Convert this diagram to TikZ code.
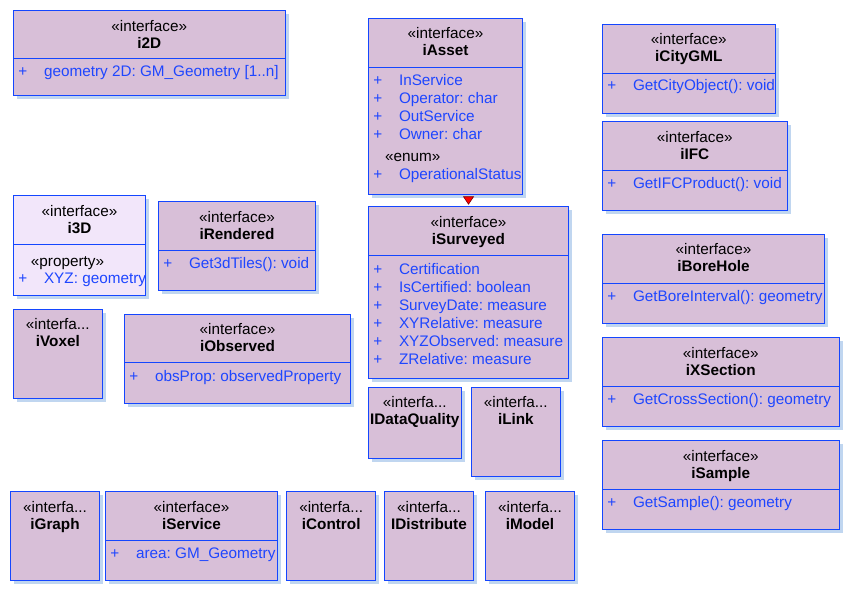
\documentclass[tikz,border=0pt]{standalone}
\usepackage{fontspec}
\setmainfont{Liberation Sans}
\usetikzlibrary{shadows,calc}
\frenchspacing
\definecolor{boxfill}{RGB}{216,191,216}
\definecolor{boxfillL}{RGB}{242,230,250}
\definecolor{boxline}{RGB}{20,70,255}
\definecolor{attrblue}{RGB}{30,70,255}
\definecolor{shadowblue}{RGB}{192,214,240}
\definecolor{darkred}{RGB}{120,0,0}
\tikzset{
  umlbox/.style={draw=boxline, line width=1pt, fill=boxfill, anchor=north west,
    inner sep=0pt, outer sep=0pt,
    drop shadow={shadow xshift=3.5pt, shadow yshift=-3.5pt, fill=shadowblue, opacity=1}},
  stereo/.style={anchor=base, inner sep=0pt, text=black, font=\fontsize{15.3}{18}\selectfont},
  title/.style={anchor=base, inner sep=0pt, text=black, font=\fontsize{15.3}{18}\selectfont\bfseries},
  attr/.style={anchor=base west, inner sep=0pt, text=attrblue, font=\fontsize{15.3}{18}\selectfont},
  plus/.style={anchor=base, inner sep=0pt, text=attrblue, font=\fontsize{15.3}{18}\selectfont},
  subst/.style={anchor=base west, inner sep=0pt, text=black, font=\fontsize{15.3}{18}\selectfont},
  divider/.style={draw=boxline, line width=1pt},
  tri/.style={fill=red, draw=darkred, line width=0.6pt, line join=miter}
}
% name, x, y, w, h
\newcommand\UBox[5]{\node[umlbox, minimum width=#4pt, minimum height=#5pt] (#1) at (#2,#3) {};}
% name, stereotype, title
\newcommand\UHead[3]{%
  \node[stereo] (#1-s) at ($(#1.north)+(0,20.5)$) {#2};
  \node[title] (#1-t) at ($(#1.north)+(0,37.5)$) {#3};}
% name, offset
\newcommand\UDiv[2]{\draw[divider] ($(#1.north west)+(0,#2)$) -- ($(#1.north east)+(0,#2)$);}
% box, name, offset, text
\newcommand\UAttr[4]{%
  \node[plus] (#2-p) at ($(#1.north west)+(9.5,#3)$) {+};
  \node[attr] (#2) at ($(#1.north west)+(30.5,#3)$) {#4};}
\begin{document}
\begin{tikzpicture}[x=1pt,y=-1pt]
\path[use as bounding box, fill=white] (0,0) rectangle (850,591);

% i2D
\UBox{i2D}{13.3}{10.7}{272}{85.3}
\UHead{i2D}{«interface»}{i2D}
\UDiv{i2D}{48.3}
\UAttr{i2D}{i2Da}{66}{geometry 2D: GM\_Geometry [1..n]}

% iAsset
\UBox{iAsset}{368.3}{18.3}{154.4}{176}
\UHead{iAsset}{«interface»}{iAsset}
\UDiv{iAsset}{49}
\UAttr{iAsset}{iAsseta}{67.4}{InService}
\UAttr{iAsset}{iAssetb}{85.4}{Operator: char}
\UAttr{iAsset}{iAssetc}{103.4}{OutService}
\UAttr{iAsset}{iAssetd}{121}{Owner: char}
\node[subst] (iAsset-enum) at ($(iAsset.north west)+(16.7,143.4)$) {«enum»};
\UAttr{iAsset}{iAssete}{160.7}{OperationalStatus}

% iCityGML
\UBox{iCityGML}{602.3}{24.3}{173}{89}
\UHead{iCityGML}{«interface»}{iCityGML}
\UDiv{iCityGML}{49}
\UAttr{iCityGML}{iCityGMLa}{66.7}{GetCityObject(): void}

% iIFC
\UBox{iIFC}{602.3}{121.7}{185}{88.6}
\UHead{iIFC}{«interface»}{iIFC}
\UDiv{iIFC}{48.6}
\UAttr{iIFC}{iIFCa}{66.6}{GetIFCProduct(): void}

% i3D
\UBox{i3D}{13.3}{195.7}{132.4}{99.6}
\fill[boxfillL] ($(i3D.north west)+(0.5,0.5)$) rectangle ($(i3D.south east)+(-0.5,-0.5)$);
\draw[divider] (i3D.north west) rectangle (i3D.south east);
\UHead{i3D}{«interface»}{i3D}
\UDiv{i3D}{48.3}
\node[subst] (i3D-prop) at ($(i3D.north west)+(17.4,70.3)$) {«property»};
\UAttr{i3D}{i3Da}{87.6}{XYZ: geometry}

% iRendered
\UBox{iRendered}{158.3}{201.7}{157.4}{88.6}
\UHead{iRendered}{«interface»}{iRendered}
\UDiv{iRendered}{49}
\UAttr{iRendered}{iRendereda}{66.7}{Get3dTiles(): void}

% iSurveyed
\UBox{iSurveyed}{368.3}{206.7}{200.4}{171.6}
\UHead{iSurveyed}{«interface»}{iSurveyed}
\UDiv{iSurveyed}{48.3}
\UAttr{iSurveyed}{iSurveyeda}{67.3}{Certification}
\UAttr{iSurveyed}{iSurveyedb}{85.3}{IsCertified: boolean}
\UAttr{iSurveyed}{iSurveyedc}{103.3}{SurveyDate: measure}
\UAttr{iSurveyed}{iSurveyedd}{121.3}{XYRelative: measure}
\UAttr{iSurveyed}{iSurveyede}{139.3}{XYZObserved: measure}
\UAttr{iSurveyed}{iSurveyedf}{157.3}{ZRelative: measure}

% red triangle between iAsset and iSurveyed
\draw[tri] ($(iSurveyed.north)+(-5,-10)$) -- ($(iSurveyed.north)+(5,-10)$) -- ($(iSurveyed.north)+(0,-2.5)$) -- cycle;

% iBoreHole
\UBox{iBoreHole}{602.3}{234.3}{222.4}{89}
\UHead{iBoreHole}{«interface»}{iBoreHole}
\UDiv{iBoreHole}{49}
\UAttr{iBoreHole}{iBoreHolea}{66.7}{GetBoreInterval(): geometry}

% iVoxel
\UBox{iVoxel}{13.3}{309.3}{89}{89}
\UHead{iVoxel}{«interfa...}{iVoxel}

% iObserved
\UBox{iObserved}{124.3}{314.3}{226.4}{89}
\UHead{iObserved}{«interface»}{iObserved}
\UDiv{iObserved}{48.4}
\UAttr{iObserved}{iObserveda}{66.7}{obsProp: observedProperty}

% iXSection
\UBox{iXSection}{602.3}{337.7}{237}{88.6}
\UHead{iXSection}{«interface»}{iXSection}
\UDiv{iXSection}{49}
\UAttr{iXSection}{iXSectiona}{66.7}{GetCrossSection(): geometry}

% IDataQuality
\UBox{IDataQuality}{368.3}{387.3}{93}{71}
\UHead{IDataQuality}{«interfa...}{IDataQuality}

% iLink
\UBox{iLink}{471}{387.3}{89.7}{89}
\UHead{iLink}{«interfa...}{iLink}

% iSample
\UBox{iSample}{602.3}{440.7}{237}{88.6}
\UHead{iSample}{«interface»}{iSample}
\UDiv{iSample}{48.6}
\UAttr{iSample}{iSamplea}{66.7}{GetSample(): geometry}

% bottom row
\UBox{iGraph}{10.3}{491.7}{89.4}{88.3}
\UHead{iGraph}{«interfa...}{iGraph}

\UBox{iService}{105.3}{491.7}{172.4}{88.3}
\UHead{iService}{«interface»}{iService}
\UDiv{iService}{49}
\UAttr{iService}{iServicea}{66.7}{area: GM\_Geometry}

\UBox{iControl}{286.7}{491.7}{89}{88.3}
\UHead{iControl}{«interfa...}{iControl}

\UBox{IDistribute}{384.3}{491.7}{89.4}{88.3}
\UHead{IDistribute}{«interfa...}{IDistribute}

\UBox{iModel}{485.3}{491.7}{89.4}{88.3}
\UHead{iModel}{«interfa...}{iModel}
\end{tikzpicture}
\end{document}
